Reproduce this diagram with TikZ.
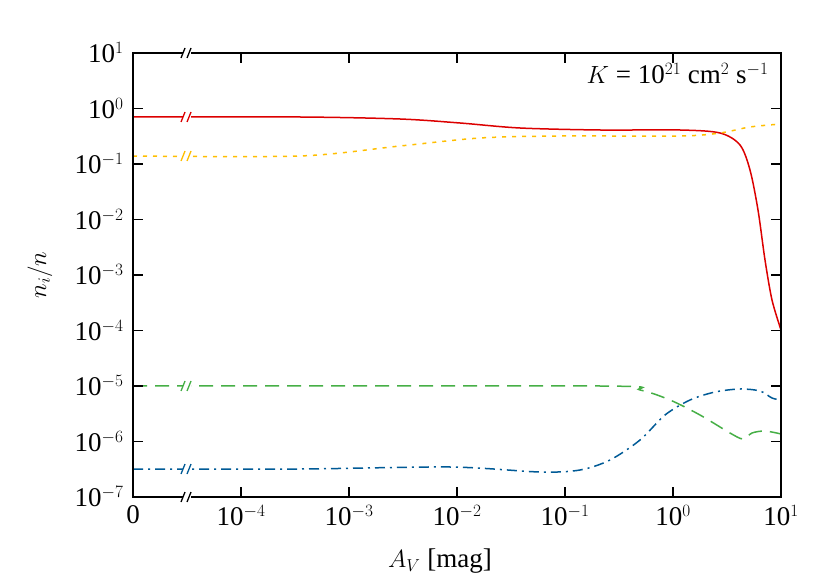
\documentclass[tikz,border=0pt]{standalone}
\usepackage{fontspec}
\setmainfont{Liberation Serif}
\definecolor{cred}{RGB}{220,0,0}
\definecolor{corg}{RGB}{255,190,0}
\definecolor{cgrn}{RGB}{70,175,70}
\definecolor{cblu}{RGB}{0,90,150}
\begin{document}
\begin{tikzpicture}[x=1pt,y=-1pt,
  lab/.style={font=\fontsize{27}{29}\selectfont},
  brk/.style={line width=1.3pt},
  curve/.style={line width=1.5pt}]
\useasboundingbox (0,0) rectangle (830,577);
\coordinate (tl) at (133,53);
\coordinate (br) at (781,497);
% curves
\draw[curve,cred] plot[smooth,tension=0.5] coordinates {(133,117)(300,117)(400,119)(460,123)(520,128)(600,130)(680,130)(720,133)(740,145)(750,170)(758,210)(765,260)(772,300)(781,330)};
\draw[curve,corg,dash pattern=on 4pt off 6pt] plot[smooth,tension=0.5] coordinates {(133,156)(300,156)(400,146)(480,138)(560,136)(680,136)(720,133)(750,127)(781,124)};
\draw[curve,cgrn,dash pattern=on 14pt off 8pt] plot[smooth,tension=0.5] coordinates {(133,386)(600,386)(640,390)(670,400)(700,415)(730,433)(743,439)(752,433)(765,431)(781,434)};
\draw[curve,cblu,dash pattern=on 10pt off 5pt on 2pt off 5pt] plot[smooth,tension=0.5] coordinates {(133,469)(300,469)(450,467)(540,472)(580,470)(610,460)(640,440)(665,415)(690,400)(715,392)(740,389)(760,391)(772,398)(781,400)};
% frame
\draw[line width=1.3pt] (tl) rectangle (br);
% break marks
\foreach \y/\c in {53/black,497/black,117/cred,156/corg,386/cgrn,469/cblu}{
  \fill[white] (183,\y-5) rectangle (191,\y+5);
  \draw[brk,\c] (181,\y+5) -- (185,\y-5) (187,\y+5) -- (191,\y-5);
}
% x ticks
\foreach \x/\e in {241/-4,349/-3,457/-2,565/-1,673/0,781/1}{
  \draw[line width=1.2pt] (\x,497) -- (\x,487) (\x,53) -- (\x,63);
  \node[lab,anchor=north] at (\x,502) {10$^{\e}$};
}
\node[lab,anchor=north] at (133,502) {0};
% y ticks
\foreach \k [evaluate=\k as \yy using {53+(1-\k)*55.5}] in {1,0,-1,-2,-3,-4,-5,-6,-7}{
  \draw[line width=1.2pt] (133,\yy) -- (143,\yy) (781,\yy) -- (771,\yy);
  \node[lab,anchor=east] at (127,\yy) {10$^{\k}$};
}
\node[lab,rotate=90] at (40,275) {$n_i/n$};
\node[lab] at (440,561) {$A_V$ [mag]};
\node[lab,anchor=north east] at (772,60) {$K$ = 10$^{21}$ cm$^2$ s$^{-1}$};
\end{tikzpicture}
\end{document}
